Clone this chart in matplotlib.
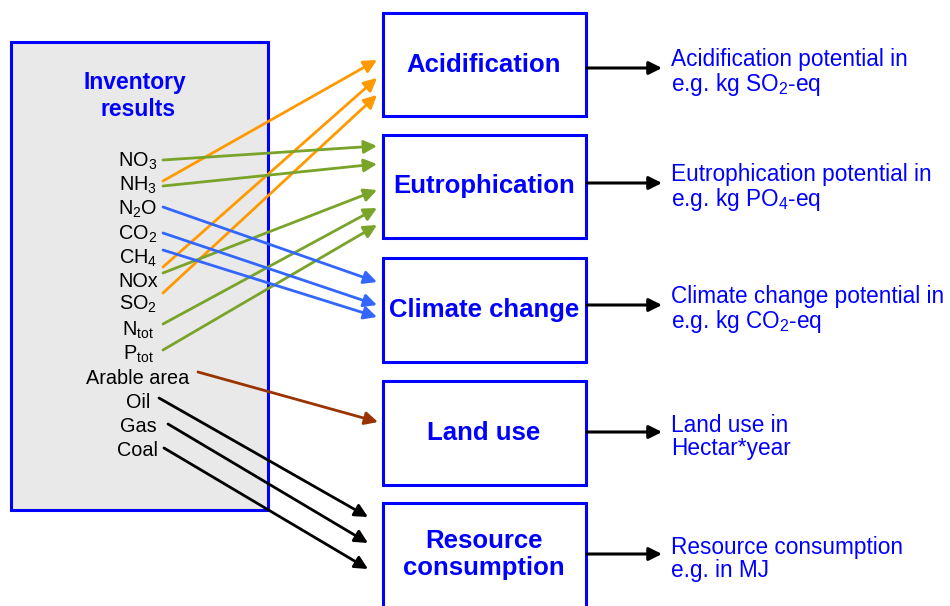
import matplotlib.pyplot as plt
from matplotlib.patches import Rectangle

plt.rcParams['font.family'] = ['Liberation Sans', 'DejaVu Sans']
plt.rcParams['mathtext.fontset'] = 'custom'
plt.rcParams['mathtext.rm'] = 'Liberation Sans'
plt.rcParams['mathtext.it'] = 'Liberation Sans:italic'
plt.rcParams['mathtext.bf'] = 'Liberation Sans:bold'

# inventory items (left box)
inventory = ["NO$_3$", "NH$_3$", "N$_2$O", "CO$_2$", "CH$_4$", "NOx", "SO$_2$",
             "N$_{\\mathrm{tot}}$", "P$_{\\mathrm{tot}}$", "Arable area", "Oil", "Gas", "Coal"]
inventory_y = [160, 184, 208, 233, 257, 280, 303, 329, 353, 377, 401, 425, 449]

# impact categories and their indicators
categories = ["Acidification", "Eutrophication", "Climate change", "Land use", "Resource\nconsumption"]
indicators = ["Acidification potential in\ne.g. kg SO$_2$-eq",
              "Eutrophication potential in\ne.g. kg PO$_4$-eq",
              "Climate change potential in\ne.g. kg CO$_2$-eq",
              "Land use in\nHectar*year",
              "Resource consumption\ne.g. in MJ"]
box_top = [13, 135, 258, 381, 503]
box_bottom = [116, 238, 362, 485, 612]
out_arrow_y = [68, 183, 305, 432, 554]

# links: (start x, start y, end x, end y, colour)
links = [
    # acidification
    (163, 181, 377, 60, "#ff9900"),
    (163, 267, 377, 78, "#ff9900"),
    (163, 293, 377, 95, "#ff9900"),
    # eutrophication
    (163, 160, 377, 146, "#7aa32a"),
    (163, 186, 377, 164, "#7aa32a"),
    (163, 273, 377, 190, "#7aa32a"),
    (163, 324, 377, 208, "#7aa32a"),
    (163, 350, 377, 225, "#7aa32a"),
    # climate change
    (163, 207, 377, 282, "#3366ff"),
    (163, 233, 377, 305, "#3366ff"),
    (163, 250, 377, 317, "#3366ff"),
    # land use
    (198, 372, 378, 422, "#993300"),
    # resources
    (159, 398, 368, 517, "black"),
    (168, 424, 368, 543, "black"),
    (164, 448, 368, 569, "black"),
]

blue = "#0000ff"

fig = plt.figure(figsize=(9.5, 6.06), dpi=100)
ax = fig.add_axes([0, 0, 1, 1])
ax.set_xlim(0, 950)
ax.set_ylim(606, 0)
ax.axis("off")

# left box
ax.add_patch(Rectangle((11, 42), 257, 468, facecolor="#e9e9e9", edgecolor=blue, lw=2.2, zorder=1))
ax.text(135, 83, "Inventory", color=blue, fontsize=16.5, fontweight="bold", ha="center", va="center", zorder=3)
ax.text(138, 110, "results", color=blue, fontsize=16.5, fontweight="bold", ha="center", va="center", zorder=3)
for lab, y in zip(inventory, inventory_y):
    ax.text(138, y + 7, lab, fontsize=14.3, ha="center", va="baseline", zorder=3)

# category boxes and indicators
for cat, ind, t, b, ya in zip(categories, indicators, box_top, box_bottom, out_arrow_y):
    ax.add_patch(Rectangle((383, t), 203, b - t, facecolor="white", edgecolor=blue, lw=2.2, zorder=2))
    yc = (t + min(b, 606)) / 2
    ax.text(484, yc, cat, color=blue, fontsize=18.5, fontweight="bold", ha="center", va="center",
            linespacing=1.12, zorder=3)
    ax.annotate("", xy=(662, ya), xytext=(587, ya),
                arrowprops=dict(arrowstyle="-|>,head_length=0.6,head_width=0.3", color="black",
                                lw=2.2, mutation_scale=13, shrinkA=0, shrinkB=0), zorder=3)
    ax.text(671, ya + 5, ind, color=blue, fontsize=16.3, ha="left", va="center", linespacing=1.04, zorder=3)

# inventory -> category links
for x0, y0, x1, y1, c in links:
    ax.annotate("", xy=(x1, y1), xytext=(x0, y0),
                arrowprops=dict(arrowstyle="-|>,head_length=0.6,head_width=0.3", color=c,
                                lw=2, mutation_scale=13, shrinkA=0, shrinkB=0), zorder=4)

fig.savefig("out.png", dpi=100)
